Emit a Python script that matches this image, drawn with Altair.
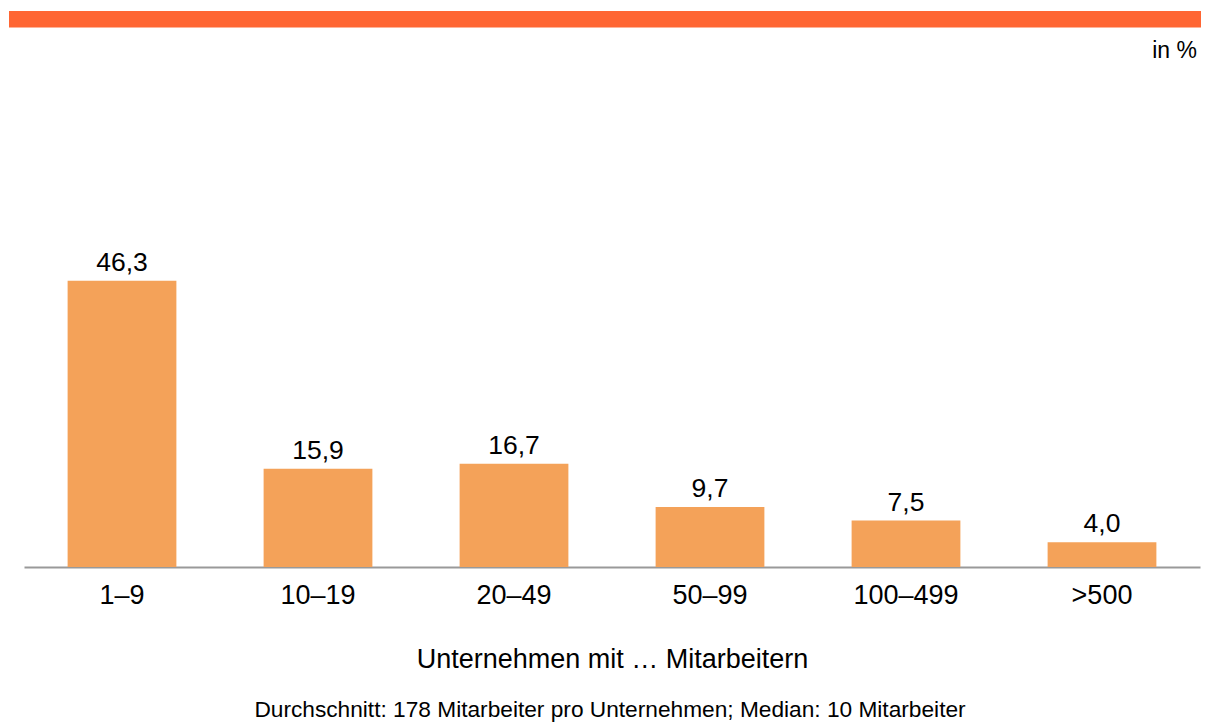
import altair as alt
import pandas as pd

categories = ["1–9", "10–19", "20–49", "50–99", "100–499", ">500"]
values = [46.3, 15.9, 16.7, 9.7, 7.5, 4.0]
value_labels = ["46,3", "15,9", "16,7", "9,7", "7,5", "4,0"]
x_title = "Unternehmen mit … Mitarbeitern"
unit_note = "in %"
footnote = "Durchschnitt: 178 Mitarbeiter pro Unternehmen; Median: 10 Mitarbeiter"

FONT = "Liberation Sans"
BAR = "#F4A259"
BAND = "#FF6633"

df = pd.DataFrame({"cat": categories, "val": values, "label": value_labels})

W, H = 1176, 559
ymax = H / 6.184

xenc = alt.X(
    "cat:N",
    sort=categories,
    scale=alt.Scale(paddingInner=0.445, paddingOuter=0.2225),
    axis=alt.Axis(
        title=x_title,
        labelAngle=0,
        ticks=False,
        tickSize=0,
        domainColor="#999999",
        domainWidth=2,
        labelFont=FONT,
        labelFontSize=27,
        labelColor="#000000",
        labelPadding=36,
        labelBaseline="alphabetic",
        titleFont=FONT,
        titleFontSize=27,
        titleFontWeight="normal",
        titleColor="#000000",
        titleBaseline="alphabetic",
        titlePadding=59,
    ),
)
yenc = alt.Y("val:Q", scale=alt.Scale(domain=[0, ymax], nice=False), axis=None)

bars = alt.Chart(df).mark_bar(color=BAR).encode(x=xenc, y=yenc)
labels = alt.Chart(df).mark_text(
    baseline="alphabetic", dy=-10, fontSize=26.5, font=FONT, color="#000000"
).encode(x=alt.X("cat:N", sort=categories), y=yenc, text="label:N")

one = pd.DataFrame({"t": [unit_note], "f": [footnote]})
band = alt.Chart(one).mark_rect(color=BAND).encode(
    x=alt.value(-15), x2=alt.value(1177), y=alt.value(3), y2=alt.value(19.5)
)
unit = alt.Chart(one).mark_text(
    align="right", baseline="alphabetic", fontSize=23, font=FONT, color="#000000"
).encode(x=alt.value(1173), y=alt.value(50), text="t:N")
foot = alt.Chart(one).mark_text(
    align="center", baseline="alphabetic", fontSize=22.7, font=FONT, color="#000000"
).encode(x=alt.value(586), y=alt.value(709), text="f:N")

chart = (
    alt.layer(band, bars, labels, unit, foot)
    .properties(
        width=W,
        height=H,
        padding={"left": 16, "top": 0, "right": 1, "bottom": 157},
        autosize=alt.AutoSizeParams(type="none"),
    )
    .configure_view(strokeWidth=0)
)

chart.save("out.html", embed_options={"renderer": "svg", "actions": False})
